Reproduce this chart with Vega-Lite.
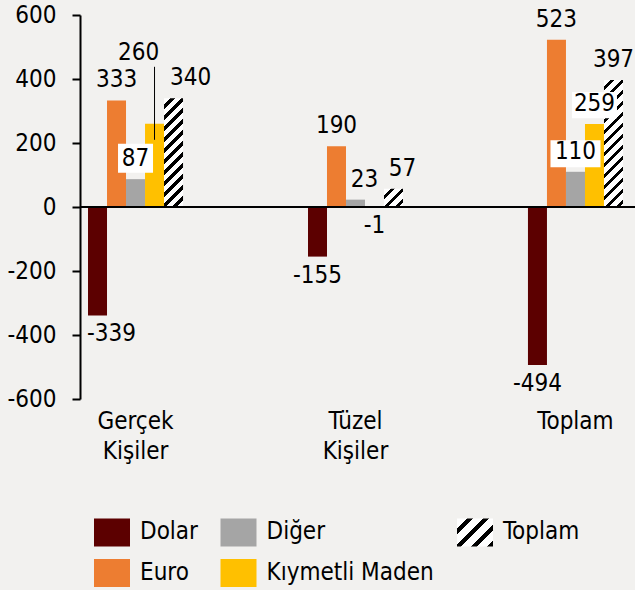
{
  "$schema": "https://vega.github.io/schema/vega-lite/v6.json",
  "width": 555,
  "height": 384,
  "autosize": {"type": "none"},
  "padding": {"left": 80, "top": 15, "right": 0, "bottom": 191},
  "background": "#F2F1EF",
  "config": {
    "view": {"stroke": null},
    "font": "DejaVu Sans Condensed",
    "locale": {"number": {"decimal": ".", "thousands": ",", "grouping": [3], "currency": ["$", ""], "minus": "-"}}
  },
  "data": {
    "values": [
      {"group": "Gerçek Kişiler", "series": "Dolar", "value": -339},
      {"group": "Gerçek Kişiler", "series": "Euro", "value": 333},
      {"group": "Gerçek Kişiler", "series": "Diğer", "value": 87},
      {"group": "Gerçek Kişiler", "series": "Kıymetli Maden", "value": 260},
      {"group": "Gerçek Kişiler", "series": "Toplam", "value": 340},
      {"group": "Tüzel Kişiler", "series": "Dolar", "value": -155},
      {"group": "Tüzel Kişiler", "series": "Euro", "value": 190},
      {"group": "Tüzel Kişiler", "series": "Diğer", "value": 23},
      {"group": "Tüzel Kişiler", "series": "Kıymetli Maden", "value": -1},
      {"group": "Tüzel Kişiler", "series": "Toplam", "value": 57},
      {"group": "Toplam", "series": "Dolar", "value": -494},
      {"group": "Toplam", "series": "Euro", "value": 523},
      {"group": "Toplam", "series": "Diğer", "value": 110},
      {"group": "Toplam", "series": "Kıymetli Maden", "value": 259},
      {"group": "Toplam", "series": "Toplam", "value": 397}
    ]
  },
  "layer": [
    {
      "transform": [{"filter": "datum.series != 'Toplam'"}],
      "mark": {"type": "bar"},
      "encoding": {
        "x": {"field": "group", "type": "nominal", "sort": null,
          "scale": {"domain": ["Gerçek Kişiler", "Tüzel Kişiler", "Toplam"], "paddingInner": 0.568, "paddingOuter": 0.0455, "align": 0.4},
          "axis": {"title": null, "domain": false, "ticks": false, "labelAngle": 0, "labelFontSize": 24, "labelColor": "#000", "labelPadding": 10, "labelLineHeight": 30, "labelExpr": "split(datum.label, ' ')"}},
        "xOffset": {"field": "series", "type": "nominal", "scale": {"domain": ["Dolar", "Euro", "Diğer", "Kıymetli Maden", "Toplam"], "paddingInner": 0, "paddingOuter": 0}},
        "y": {"field": "value", "type": "quantitative",
          "scale": {"domain": [-600, 600], "nice": false, "zero": false},
          "axis": {"title": null, "values": [-600, -400, -200, 0, 200, 400, 600], "grid": false, "domainColor": "#000", "domainWidth": 2, "tickColor": "#000", "tickWidth": 2, "tickSize": 8, "labelFontSize": 24, "labelColor": "#000", "labelPadding": 16}},
        "color": {"field": "series", "type": "nominal",
          "scale": {"domain": ["Dolar", "Diğer", "Toplam", "Euro", "Kıymetli Maden"],
            "range": ["#5C0000", "#A5A5A5",
              {"expr": "{gradient: 'linear', x1: 0, y1: 0, x2: 1.1077, y2: 0.8615, stops: [{offset: 0, color: '#fff'}, {offset: 0.15, color: '#fff'}, {offset: 0.15, color: '#000'}, {offset: 0.25, color: '#000'}, {offset: 0.25, color: '#fff'}, {offset: 0.4, color: '#fff'}, {offset: 0.4, color: '#000'}, {offset: 0.5, color: '#000'}, {offset: 0.5, color: '#fff'}, {offset: 0.65, color: '#fff'}, {offset: 0.65, color: '#000'}, {offset: 0.75, color: '#000'}, {offset: 0.75, color: '#fff'}, {offset: 0.9, color: '#fff'}, {offset: 0.9, color: '#000'}, {offset: 1, color: '#000'}]}"},
              "#ED7D31", "#FFC000"]},
          "legend": {"title": null, "orient": "none", "legendX": 14, "legendY": 499, "direction": "horizontal", "columns": 3, "padding": 0,
            "symbolType": "M-1,-0.78L1,-0.78L1,0.78L-1,0.78Z", "symbolSize": 1296, "symbolStrokeWidth": 0, "symbolOpacity": 1,
            "labelFontSize": 24, "labelColor": "#000", "labelLimit": 300, "labelOffset": 10, "columnPadding": 22.5, "rowPadding": 8}}
      }
    },
    {
      "transform": [{"filter": "datum.series == 'Toplam' && datum.group == 'Gerçek Kişiler'"}],
      "mark": {"type": "bar", "fill": {"gradient": "linear", "x1": 0, "y1": 0, "x2": 0.2056, "y2": 1.1773, "stops": [
        {"offset": 0, "color": "#fff"}, {"offset": 0.05, "color": "#fff"}, {"offset": 0.05, "color": "#000"}, {"offset": 0.08333, "color": "#000"},
        {"offset": 0.08333, "color": "#fff"}, {"offset": 0.13333, "color": "#fff"}, {"offset": 0.13333, "color": "#000"}, {"offset": 0.16667, "color": "#000"},
        {"offset": 0.16667, "color": "#fff"}, {"offset": 0.21667, "color": "#fff"}, {"offset": 0.21667, "color": "#000"}, {"offset": 0.25, "color": "#000"},
        {"offset": 0.25, "color": "#fff"}, {"offset": 0.3, "color": "#fff"}, {"offset": 0.3, "color": "#000"}, {"offset": 0.33333, "color": "#000"},
        {"offset": 0.33333, "color": "#fff"}, {"offset": 0.38333, "color": "#fff"}, {"offset": 0.38333, "color": "#000"}, {"offset": 0.41667, "color": "#000"},
        {"offset": 0.41667, "color": "#fff"}, {"offset": 0.46667, "color": "#fff"}, {"offset": 0.46667, "color": "#000"}, {"offset": 0.5, "color": "#000"},
        {"offset": 0.5, "color": "#fff"}, {"offset": 0.55, "color": "#fff"}, {"offset": 0.55, "color": "#000"}, {"offset": 0.58333, "color": "#000"},
        {"offset": 0.58333, "color": "#fff"}, {"offset": 0.63333, "color": "#fff"}, {"offset": 0.63333, "color": "#000"}, {"offset": 0.66667, "color": "#000"},
        {"offset": 0.66667, "color": "#fff"}, {"offset": 0.71667, "color": "#fff"}, {"offset": 0.71667, "color": "#000"}, {"offset": 0.75, "color": "#000"},
        {"offset": 0.75, "color": "#fff"}, {"offset": 0.8, "color": "#fff"}, {"offset": 0.8, "color": "#000"}, {"offset": 0.83333, "color": "#000"},
        {"offset": 0.83333, "color": "#fff"}, {"offset": 0.88333, "color": "#fff"}, {"offset": 0.88333, "color": "#000"}, {"offset": 0.91667, "color": "#000"},
        {"offset": 0.91667, "color": "#fff"}, {"offset": 0.96667, "color": "#fff"}, {"offset": 0.96667, "color": "#000"}, {"offset": 1, "color": "#000"}]}},
      "encoding": {
        "x": {"field": "group", "type": "nominal", "sort": null},
        "xOffset": {"field": "series", "type": "nominal"},
        "y": {"field": "value", "type": "quantitative"}
      }
    },
    {
      "transform": [{"filter": "datum.series == 'Toplam' && datum.group == 'Tüzel Kişiler'"}],
      "mark": {"type": "bar", "fill": {"gradient": "linear", "x1": 0, "y1": 0, "x2": 1.205, "y2": 1.157, "stops": [
        {"offset": 0, "color": "#fff"}, {"offset": 0.15, "color": "#fff"}, {"offset": 0.15, "color": "#000"}, {"offset": 0.25, "color": "#000"},
        {"offset": 0.25, "color": "#fff"}, {"offset": 0.4, "color": "#fff"}, {"offset": 0.4, "color": "#000"}, {"offset": 0.5, "color": "#000"},
        {"offset": 0.5, "color": "#fff"}, {"offset": 0.65, "color": "#fff"}, {"offset": 0.65, "color": "#000"}, {"offset": 0.75, "color": "#000"},
        {"offset": 0.75, "color": "#fff"}, {"offset": 0.9, "color": "#fff"}, {"offset": 0.9, "color": "#000"}, {"offset": 1, "color": "#000"}]}},
      "encoding": {
        "x": {"field": "group", "type": "nominal", "sort": null},
        "xOffset": {"field": "series", "type": "nominal"},
        "y": {"field": "value", "type": "quantitative"}
      }
    },
    {
      "transform": [{"filter": "datum.series == 'Toplam' && datum.group == 'Toplam'"}],
      "mark": {"type": "bar", "fill": {"gradient": "linear", "x1": 0, "y1": 0, "x2": 0.1773, "y2": 1.1857, "stops": [
        {"offset": 0, "color": "#fff"}, {"offset": 0.04286, "color": "#fff"}, {"offset": 0.04286, "color": "#000"}, {"offset": 0.07143, "color": "#000"},
        {"offset": 0.07143, "color": "#fff"}, {"offset": 0.11429, "color": "#fff"}, {"offset": 0.11429, "color": "#000"}, {"offset": 0.14286, "color": "#000"},
        {"offset": 0.14286, "color": "#fff"}, {"offset": 0.18571, "color": "#fff"}, {"offset": 0.18571, "color": "#000"}, {"offset": 0.21429, "color": "#000"},
        {"offset": 0.21429, "color": "#fff"}, {"offset": 0.25714, "color": "#fff"}, {"offset": 0.25714, "color": "#000"}, {"offset": 0.28571, "color": "#000"},
        {"offset": 0.28571, "color": "#fff"}, {"offset": 0.32857, "color": "#fff"}, {"offset": 0.32857, "color": "#000"}, {"offset": 0.35714, "color": "#000"},
        {"offset": 0.35714, "color": "#fff"}, {"offset": 0.4, "color": "#fff"}, {"offset": 0.4, "color": "#000"}, {"offset": 0.42857, "color": "#000"},
        {"offset": 0.42857, "color": "#fff"}, {"offset": 0.47143, "color": "#fff"}, {"offset": 0.47143, "color": "#000"}, {"offset": 0.5, "color": "#000"},
        {"offset": 0.5, "color": "#fff"}, {"offset": 0.54286, "color": "#fff"}, {"offset": 0.54286, "color": "#000"}, {"offset": 0.57143, "color": "#000"},
        {"offset": 0.57143, "color": "#fff"}, {"offset": 0.61429, "color": "#fff"}, {"offset": 0.61429, "color": "#000"}, {"offset": 0.64286, "color": "#000"},
        {"offset": 0.64286, "color": "#fff"}, {"offset": 0.68571, "color": "#fff"}, {"offset": 0.68571, "color": "#000"}, {"offset": 0.71429, "color": "#000"},
        {"offset": 0.71429, "color": "#fff"}, {"offset": 0.75714, "color": "#fff"}, {"offset": 0.75714, "color": "#000"}, {"offset": 0.78571, "color": "#000"},
        {"offset": 0.78571, "color": "#fff"}, {"offset": 0.82857, "color": "#fff"}, {"offset": 0.82857, "color": "#000"}, {"offset": 0.85714, "color": "#000"},
        {"offset": 0.85714, "color": "#fff"}, {"offset": 0.9, "color": "#fff"}, {"offset": 0.9, "color": "#000"}, {"offset": 0.92857, "color": "#000"},
        {"offset": 0.92857, "color": "#fff"}, {"offset": 0.97143, "color": "#fff"}, {"offset": 0.97143, "color": "#000"}, {"offset": 1, "color": "#000"}]}},
      "encoding": {
        "x": {"field": "group", "type": "nominal", "sort": null},
        "xOffset": {"field": "series", "type": "nominal"},
        "y": {"field": "value", "type": "quantitative"}
      }
    },
    {
      "mark": {"type": "rule", "color": "#000", "strokeWidth": 2},
      "encoding": {"y": {"datum": 0, "type": "quantitative"}}
    },
    {
      "transform": [{"filter": "datum.group == 'Gerçek Kişiler' && datum.series == 'Diğer'"}],
      "mark": {"type": "point", "shape": "M-1,-0.83L1,-0.83L1,0.83L-1,0.83Z", "size": 1225, "filled": true, "fill": "#fff", "opacity": 1, "strokeWidth": 0, "yOffset": -21},
      "encoding": {
        "x": {"field": "group", "type": "nominal", "sort": null},
        "xOffset": {"field": "series", "type": "nominal"},
        "y": {"field": "value", "type": "quantitative"}
      }
    },
    {
      "transform": [{"filter": "datum.group == 'Toplam' && datum.series == 'Diğer'"}],
      "mark": {"type": "point", "shape": "M-1,-0.54L1,-0.54L1,0.54L-1,0.54Z", "size": 2500, "filled": true, "fill": "#fff", "opacity": 1, "strokeWidth": 0, "yOffset": -18},
      "encoding": {
        "x": {"field": "group", "type": "nominal", "sort": null},
        "xOffset": {"field": "series", "type": "nominal"},
        "y": {"field": "value", "type": "quantitative"}
      }
    },
    {
      "transform": [{"filter": "datum.group == 'Toplam' && datum.series == 'Kıymetli Maden'"}],
      "mark": {"type": "point", "shape": "M-1,-0.58L1,-0.58L1,0.58L-1,0.58Z", "size": 2025, "filled": true, "fill": "#fff", "opacity": 1, "strokeWidth": 0, "yOffset": -19, "xOffset": -2},
      "encoding": {
        "x": {"field": "group", "type": "nominal", "sort": null},
        "xOffset": {"field": "series", "type": "nominal"},
        "y": {"field": "value", "type": "quantitative"}
      }
    },
    {
      "transform": [{"filter": "datum.value >= 0 && !(datum.group == 'Tüzel Kişiler' && (datum.series == 'Diğer' || datum.series == 'Toplam')) && !(datum.group == 'Gerçek Kişiler' && (datum.series == 'Toplam' || datum.series == 'Kıymetli Maden'))"}],
      "mark": {"type": "text", "fontSize": 24, "color": "#000", "baseline": "middle", "align": "center", "dy": -20},
      "encoding": {
        "x": {"field": "group", "type": "nominal", "sort": null},
        "xOffset": {"field": "series", "type": "nominal"},
        "y": {"field": "value", "type": "quantitative"},
        "text": {"field": "value", "type": "quantitative"}
      }
    },
    {
      "transform": [{"filter": "datum.group == 'Tüzel Kişiler' && (datum.series == 'Diğer' || datum.series == 'Toplam')"}],
      "mark": {"type": "text", "fontSize": 24, "color": "#000", "baseline": "middle", "align": "center", "dy": -20, "dx": 9},
      "encoding": {
        "x": {"field": "group", "type": "nominal", "sort": null},
        "xOffset": {"field": "series", "type": "nominal"},
        "y": {"field": "value", "type": "quantitative"},
        "text": {"field": "value", "type": "quantitative"}
      }
    },
    {
      "transform": [{"filter": "datum.group == 'Gerçek Kişiler' && datum.series == 'Toplam'"}],
      "mark": {"type": "text", "fontSize": 24, "color": "#000", "baseline": "middle", "align": "center", "dy": -20, "dx": 17},
      "encoding": {
        "x": {"field": "group", "type": "nominal", "sort": null},
        "xOffset": {"field": "series", "type": "nominal"},
        "y": {"field": "value", "type": "quantitative"},
        "text": {"field": "value", "type": "quantitative"}
      }
    },
    {
      "transform": [{"filter": "datum.value < 0 && datum.group != 'Gerçek Kişiler'"}],
      "mark": {"type": "text", "fontSize": 24, "color": "#000", "baseline": "middle", "align": "center", "dy": 19},
      "encoding": {
        "x": {"field": "group", "type": "nominal", "sort": null},
        "xOffset": {"field": "series", "type": "nominal"},
        "y": {"field": "value", "type": "quantitative"},
        "text": {"field": "value", "type": "quantitative"}
      }
    },
    {
      "transform": [{"filter": "datum.value < 0 && datum.group == 'Gerçek Kişiler'"}],
      "mark": {"type": "text", "fontSize": 24, "color": "#000", "baseline": "middle", "align": "center", "dy": 19, "dx": 14},
      "encoding": {
        "x": {"field": "group", "type": "nominal", "sort": null},
        "xOffset": {"field": "series", "type": "nominal"},
        "y": {"field": "value", "type": "quantitative"},
        "text": {"field": "value", "type": "quantitative"}
      }
    },
    {
      "transform": [{"filter": "datum.group == 'Gerçek Kişiler' && datum.series == 'Kıymetli Maden'"}],
      "mark": {"type": "text", "fontSize": 24, "color": "#000", "baseline": "middle", "align": "center", "dy": -71, "dx": -16},
      "encoding": {
        "x": {"field": "group", "type": "nominal", "sort": null},
        "xOffset": {"field": "series", "type": "nominal"},
        "y": {"field": "value", "type": "quantitative"},
        "text": {"field": "value", "type": "quantitative"}
      }
    },
    {
      "transform": [{"filter": "datum.group == 'Gerçek Kişiler' && datum.series == 'Kıymetli Maden'"}],
      "mark": {"type": "rule", "color": "#000", "strokeWidth": 1, "yOffset": -57, "y2Offset": 16},
      "encoding": {
        "x": {"field": "group", "type": "nominal", "sort": null},
        "xOffset": {"field": "series", "type": "nominal"},
        "y": {"field": "value", "type": "quantitative"},
        "y2": {"field": "value"}
      }
    }
  ]
}
